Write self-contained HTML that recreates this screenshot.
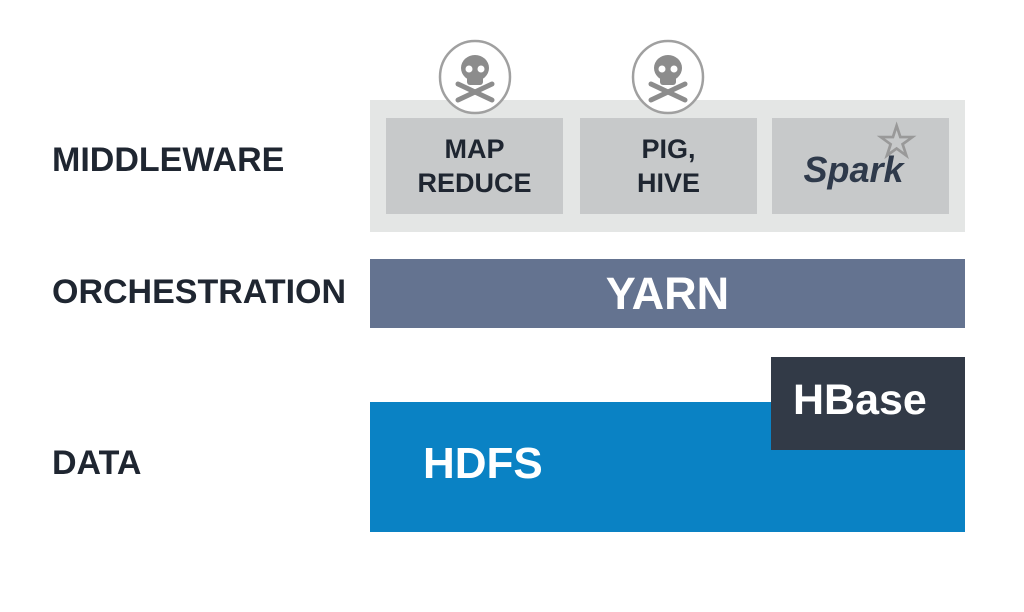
<!DOCTYPE html>
<html><head><meta charset="utf-8"><style>
body{margin:0;width:1024px;height:612px;background:#fff;overflow:hidden;position:relative;font-family:"Liberation Sans",sans-serif;font-weight:bold}
.a{position:absolute}
.lbl{color:#1f2631;font-size:34px;left:52px;letter-spacing:0px}
.box{background:#c7c9ca;color:#1f2631;font-size:27px;text-align:center;line-height:34px;display:flex;align-items:center;justify-content:center}
</style></head><body>
<div class="a lbl" style="top:141px">MIDDLEWARE</div>
<div class="a lbl" style="top:273px">ORCHESTRATION</div>
<div class="a lbl" style="top:444px">DATA</div>
<div class="a" style="left:370px;top:100px;width:595px;height:132px;background:#e4e6e5"></div>
<div class="a box" style="left:386px;top:118px;width:177px;height:96px">MAP<br>REDUCE</div>
<div class="a box" style="left:580px;top:118px;width:177px;height:96px">PIG,<br>HIVE</div>
<div class="a box" style="left:772px;top:118px;width:177px;height:96px"><span style="font-style:italic;color:#2f3a4b;font-size:36px;font-weight:bold;margin-left:-14px;margin-top:8px">Spark</span><span style="position:absolute;left:104px;top:6px;color:#999;font-size:46px">☆</span></div>
<svg class="a" style="left:0;top:0" width="1024" height="612">
<g id="sk">
<ellipse cx="475" cy="77" rx="35" ry="36" fill="#fff" stroke="#a0a0a0" stroke-width="2.5"/>
<ellipse cx="475" cy="68" rx="14" ry="13" fill="#8c8c8c"/>
<rect x="467" y="74" width="16" height="11" rx="3" fill="#8c8c8c"/>
<circle cx="469" cy="69" r="3.5" fill="#fff"/><circle cx="481" cy="69" r="3.5" fill="#fff"/>
<line x1="458" y1="84" x2="492" y2="100" stroke="#8c8c8c" stroke-width="5" stroke-linecap="round"/>
<line x1="492" y1="84" x2="458" y2="100" stroke="#8c8c8c" stroke-width="5" stroke-linecap="round"/>
</g>
<use href="#sk" x="193"/>
</svg>
<div class="a" style="left:370px;top:259px;width:595px;height:69px;background:#647390;color:#fff;font-size:45px;text-align:center;line-height:69px">YARN</div>
<div class="a" style="left:370px;top:402px;width:595px;height:130px;background:#0a82c4"></div>
<div class="a" style="left:423px;top:439px;color:#fff;font-size:44px">HDFS</div>
<div class="a" style="left:771px;top:357px;width:194px;height:93px;background:#323a47"></div>
<div class="a" style="left:793px;top:376px;color:#fff;font-size:43px">HBase</div>
</body></html>
